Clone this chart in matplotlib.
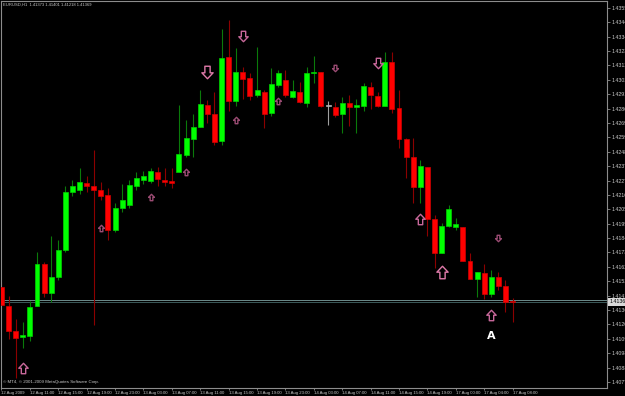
import numpy as np
import matplotlib
matplotlib.use("Agg")
import matplotlib.pyplot as plt
from matplotlib.path import Path

# ── data: EURUSD H1 bars, first bar = 12 Aug 2009 07:00 ────────────────────
header = "EURUSD,H1  1.41373 1.41401 1.41218 1.41369"

opens = [1.41480, 1.41338, 1.41153, 1.41108, 1.41115, 1.41338, 1.41651, 1.41435,
         1.41554, 1.41755, 1.42185, 1.42200, 1.42252, 1.42230, 1.42200, 1.42163,
         1.41903, 1.42067, 1.42089, 1.42230, 1.42275, 1.42267, 1.42334, 1.42275,
         1.42267, 1.42334, 1.42460, 1.42579, 1.42668, 1.42832, 1.42765, 1.42564,
         1.43189, 1.42862, 1.43077, 1.43032, 1.42906, 1.42928, 1.42772, 1.42980,
         1.43018, 1.42891, 1.42928, 1.42847, 1.43070, 1.43077, 1.42824, 1.42817,
         1.42765, 1.42847, 1.42817, 1.42824, 1.42966, 1.42899, 1.42824, 1.43151,
         1.42810, 1.42579, 1.42446, 1.42223, 1.42371, 1.41985, 1.41732, 1.41933,
         1.41925, 1.41925, 1.41673, 1.41539, 1.41584, 1.41428, 1.41554, 1.41487,
         1.41373]
highs = [1.41517, 1.41413, 1.41242, 1.41220, 1.41376, 1.41740, 1.41665, 1.41859,
         1.41829, 1.42230, 1.42275, 1.42364, 1.42304, 1.42498, 1.42260, 1.42215,
         1.42104, 1.42245, 1.42275, 1.42334, 1.42342, 1.42364, 1.42371, 1.42364,
         1.42364, 1.42832, 1.42720, 1.42765, 1.42943, 1.42869, 1.42928, 1.43397,
         1.43463, 1.43255, 1.43114, 1.43070, 1.43263, 1.42943, 1.43107, 1.43092,
         1.43092, 1.43018, 1.43003, 1.43114, 1.43196, 1.43077, 1.42862, 1.42854,
         1.42891, 1.42906, 1.42876, 1.42995, 1.43003, 1.42928, 1.43226, 1.43226,
         1.42943, 1.42587, 1.42587, 1.42423, 1.42371, 1.42015, 1.41955, 1.42089,
         1.41992, 1.41925, 1.41732, 1.41591, 1.41651, 1.41606, 1.41591, 1.41532,
         1.41401]
lows = [1.41309, 1.41093, 1.40803, 1.41026, 1.41078, 1.41338, 1.41405, 1.41368,
        1.41532, 1.41740, 1.42156, 1.42171, 1.42185, 1.41197, 1.42126, 1.41829,
        1.41888, 1.42037, 1.42067, 1.42200, 1.42245, 1.42252, 1.42230, 1.42230,
        1.42215, 1.42334, 1.42446, 1.42446, 1.42668, 1.42698, 1.42535, 1.42535,
        1.42787, 1.42824, 1.42876, 1.42869, 1.42891, 1.42661, 1.42750, 1.42966,
        1.42891, 1.42884, 1.42847, 1.42817, 1.42995, 1.42817, 1.42683, 1.42743,
        1.42624, 1.42676, 1.42624, 1.42787, 1.42802, 1.42817, 1.42824, 1.42772,
        1.42512, 1.42290, 1.42104, 1.42104, 1.41859, 1.41621, 1.41732, 1.41925,
        1.41903, 1.41673, 1.41539, 1.41405, 1.41390, 1.41405, 1.41457, 1.41294,
        1.41218]
closes = [1.41346, 1.41153, 1.41101, 1.41123, 1.41331, 1.41651, 1.41435, 1.41554,
          1.41755, 1.42185, 1.42230, 1.42260, 1.42230, 1.42200, 1.42156, 1.41903,
          1.42067, 1.42126, 1.42237, 1.42290, 1.42304, 1.42342, 1.42282, 1.42260,
          1.42252, 1.42468, 1.42587, 1.42668, 1.42839, 1.42765, 1.42557, 1.43181,
          1.42862, 1.43077, 1.43025, 1.42899, 1.42943, 1.42765, 1.42988, 1.43070,
          1.42906, 1.42936, 1.42854, 1.43070, 1.43077, 1.42824, 1.42824, 1.42758,
          1.42847, 1.42817, 1.42832, 1.42973, 1.42906, 1.42824, 1.43151, 1.42802,
          1.42579, 1.42446, 1.42223, 1.42379, 1.41985, 1.41732, 1.41933, 1.42059,
          1.41948, 1.41673, 1.41539, 1.41591, 1.41428, 1.41554, 1.41487, 1.41368,
          1.41369]

bid = 1.41369
ask = 1.41384

price_ticks = [1.43555, 1.43448, 1.43341, 1.43234, 1.43127, 1.43020, 1.42913,
               1.42806, 1.42699, 1.42592, 1.42485, 1.42378, 1.42271, 1.42164,
               1.42057, 1.41950, 1.41843, 1.41736, 1.41629, 1.41522, 1.41415,
               1.41308, 1.41201, 1.41094, 1.40987, 1.40880, 1.40773]

time_bars = [0, 4, 8, 12, 16, 20, 24, 28, 32, 36, 40, 44, 48, 52, 56, 60, 64, 68, 72]
time_labels = ["12 Aug 2009", "12 Aug 11:00", "12 Aug 15:00", "12 Aug 19:00",
               "12 Aug 23:00", "13 Aug 03:00", "13 Aug 07:00", "13 Aug 11:00",
               "13 Aug 15:00", "13 Aug 19:00", "13 Aug 23:00", "14 Aug 03:00",
               "14 Aug 07:00", "14 Aug 11:00", "14 Aug 15:00", "14 Aug 19:00",
               "17 Aug 00:00", "17 Aug 04:00", "17 Aug 08:00"]

# signal arrows (bar index, price, direction, size class)
arrow_bars = [3, 14, 21, 26, 29, 34, 33, 39, 47, 53, 59, 62, 70, 69]
arrow_prices = [1.40878, 1.41918, 1.42148, 1.42334, 1.43077, 1.43345, 1.42720,
                1.42862, 1.43107, 1.43144, 1.41985, 1.41591, 1.41844, 1.41272]
arrow_dirs = ["up", "up", "up", "up", "down", "down", "up",
              "up", "down", "down", "up", "up", "down", "up"]
arrow_kinds = ["m", "s", "s", "s", "b", "m", "s", "s", "s", "m", "m", "b", "s", "m"]

label_bar, label_price = 69, 1.41115

# ── figure ────────────────────────────────────────────────────────────────
BG = "black"
FRAME = "#8c8c8c"
TXT = "#c8c8c8"
SMALL = ["Liberation Sans", "DejaVu Sans"]

fig = plt.figure(figsize=(6.25, 3.96), dpi=100, facecolor=BG)
ax = fig.add_axes([1 / 625, 8 / 396, 606 / 625, 387 / 396], facecolor=BG)

o = np.array(opens); h = np.array(highs); l = np.array(lows); c = np.array(closes)
x = np.arange(len(o))

up = c > o
dn = c < o
body_col = np.where(up, "#00ff00", np.where(dn, "#ff0000", "#b4b4b4"))
wick_col = np.where(up, "#0a7a0a", np.where(dn, "#8c0000", "#a0a0a0"))
edge_col = np.where(up, "#00d000", np.where(dn, "#d00000", "#b4b4b4"))

ax.vlines(x, l, h, colors=wick_col, lw=0.8, zorder=2)
bottoms = np.minimum(o, c)
heights = np.maximum(np.abs(c - o), 0.00006)
ax.bar(x, heights, bottom=bottoms, width=0.7, color=body_col,
       edgecolor=edge_col, linewidth=0.5, zorder=3)

# bid / ask lines
ax.axhline(ask, color="#6e8c8c", lw=0.7, zorder=1)
ax.axhline(bid, color="#3c5a5a", lw=0.7, zorder=1)

# hollow block arrows
up_path = Path([(0, 1), (-0.9, 0.05), (-0.42, 0.05), (-0.42, -1),
                (0.42, -1), (0.42, 0.05), (0.9, 0.05), (0, 1)],
               [Path.MOVETO] + [Path.LINETO] * 6 + [Path.CLOSEPOLY])
dn_path = Path(up_path.vertices * [1, -1], up_path.codes)
sizes = {"b": 9.0, "m": 7.5, "s": 4.6}
cols = {"b": "#e07aaa", "m": "#c8689a", "s": "#9c4c74"}
for b, p, d, k in zip(arrow_bars, arrow_prices, arrow_dirs, arrow_kinds):
    ax.scatter([b], [p], marker=up_path if d == "up" else dn_path,
               s=sizes[k] ** 2, facecolor=BG, edgecolor=cols[k],
               linewidths=1.0, zorder=4)

ax.text(label_bar, label_price, "A", color="white", fontsize=8,
        fontweight="bold", ha="center", va="center", zorder=5)

ax.set_xlim(-0.07, 85.3)
ax.set_ylim(1.40729, 1.43605)

# frame + axes
for s in ax.spines.values():
    s.set_color(FRAME)
    s.set_linewidth(0.8)
ax.yaxis.tick_right()
ax.set_yticks(price_ticks)
ax.set_yticklabels([f"{v:.5f}" for v in price_ticks], family=SMALL)
ax.set_xticks(time_bars)
ax.set_xticklabels(time_labels, ha="left", family=SMALL)
ax.tick_params(axis="y", colors=FRAME, labelcolor=TXT, labelsize=3.8,
               length=2.0, width=0.6, pad=1.0)
ax.tick_params(axis="x", colors=FRAME, labelcolor=TXT, labelsize=3.1,
               length=1.5, width=0.6, pad=0.6)

# current price box on the scale
ax.text(1.004, bid, f"{bid:.5f}", transform=ax.get_yaxis_transform(),
        color="black", fontsize=3.8, family=SMALL, ha="left", va="center",
        clip_on=False,
        bbox=dict(boxstyle="square,pad=0.25", fc="#d8d8d8", ec="none"),
        zorder=6)

fig.text(3 / 625, 1 - 5 / 396, header, color=TXT, fontsize=3.0,
         family=SMALL, ha="left", va="center")
fig.text(3 / 625, 1 - 382 / 396,
         "© MT4, © 2001-2009 MetaQuotes Software Corp.", color=TXT,
         fontsize=3.2, family=SMALL, ha="left", va="center")

fig.savefig("out.png", dpi=100, facecolor=BG)
